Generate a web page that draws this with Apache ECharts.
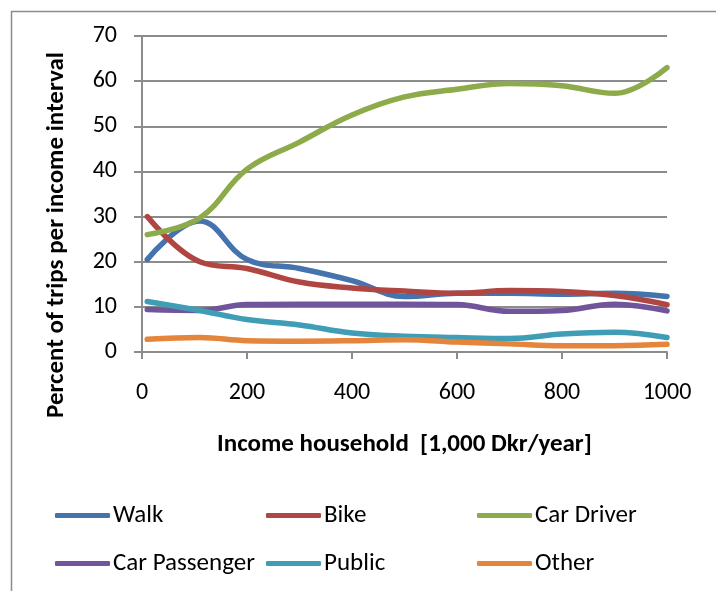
<!DOCTYPE html>
<html>
<head>
<meta charset="utf-8">
<script src="https://cdn.jsdelivr.net/npm/echarts@6/dist/echarts.min.js"></script>
<style>
html,body{margin:0;padding:0;background:#fff;}
#chart{width:716px;height:591px;}
</style>
</head>
<body>
<div id="chart"></div>
<script>
const income = [10, 110, 200, 300, 400, 500, 600, 700, 800, 900, 1000];
const walk = [20.5, 29.0, 20.5, 18.5, 15.8, 12.3, 13.0, 13.0, 12.8, 13.0, 12.3];
const bike = [30.0, 20.0, 18.5, 15.5, 14.2, 13.5, 13.0, 13.6, 13.4, 12.5, 10.5];
const carDriver = [26.0, 29.7, 40.5, 46.5, 52.5, 56.5, 58.2, 59.5, 59.0, 57.3, 63.0];
const carPassenger = [9.4, 9.2, 10.5, 10.6, 10.6, 10.6, 10.5, 9.0, 9.2, 10.6, 9.1];
const publicT = [11.2, 9.2, 7.2, 6.0, 4.2, 3.5, 3.2, 3.0, 4.0, 4.4, 3.2];
const other = [2.8, 3.2, 2.5, 2.4, 2.5, 2.7, 2.2, 1.8, 1.4, 1.4, 1.7];

const seriesNames = ['Walk', 'Bike', 'Car Driver', 'Car Passenger', 'Public', 'Other'];
const seriesValues = [walk, bike, carDriver, carPassenger, publicT, other];
const colors = ['#4473ae', '#b04642', '#8dab4b', '#71559a', '#3f9db5', '#e5843b'];

const yTicks = [0, 10, 20, 30, 40, 50, 60, 70];
const xTicks = [0, 200, 400, 600, 800, 1000];

const FONT = 'Carlito, Lato, sans-serif';

const chart = echarts.init(document.getElementById('chart'));

const series = seriesNames.map((name, i) => ({
  name: name,
  type: 'line',
  smooth: 0.4,
  showSymbol: false,
  symbol: 'none',
  data: income.map((x, j) => [x, seriesValues[i][j]]),
  lineStyle: { width: 5.5, color: colors[i], cap: 'round', join: 'round' },
  itemStyle: { color: colors[i] },
  z: 3
}));

function legend(names, left) {
  return {
    data: names.map(n => ({ name: n, icon: 'roundRect' })),
    orient: 'vertical',
    left: left,
    top: 503,
    itemWidth: 55,
    itemHeight: 5,
    itemGap: 23,
    padding: 0,
    selectedMode: false,
    textStyle: { fontFamily: FONT, fontSize: 25, color: '#000', lineHeight: 24, padding: [0, 0, 0, -2] }
  };
}

chart.setOption({
  animation: false,
  backgroundColor: '#fff',
  color: colors,
  grid: { left: 142, top: 36, width: 525, height: 316, containLabel: false },
  xAxis: {
    type: 'value',
    min: 0, max: 1000, interval: 200,
    name: 'Income household  [1,000 Dkr/year]',
    nameLocation: 'middle',
    nameGap: 80,
    nameTextStyle: { fontFamily: FONT, fontSize: 25, fontWeight: 'bold', color: '#000' },
    axisLine: { show: true, lineStyle: { color: '#8c8c8c', width: 2 } },
    axisTick: { show: true, inside: false, length: 7, lineStyle: { color: '#8c8c8c', width: 2 } },
    axisLabel: { margin: 29, fontFamily: FONT, fontSize: 24, color: '#000',
      formatter: v => xTicks.includes(v) ? String(v) : '' },
    splitLine: { show: false }
  },
  yAxis: {
    type: 'value',
    min: 0, max: 70, interval: 10,
    axisLine: { show: true, lineStyle: { color: '#8c8c8c', width: 2 } },
    axisTick: { show: true, inside: false, length: 8, lineStyle: { color: '#8c8c8c', width: 2 } },
    axisLabel: { margin: 25, fontFamily: FONT, fontSize: 24, color: '#000',
      formatter: v => yTicks.includes(v) ? String(v) : '' },
    splitLine: { show: true, lineStyle: { color: '#8c8c8c', width: 2 } }
  },
  legend: [
    legend(['Walk', 'Car Passenger'], 55),
    legend(['Bike', 'Public'], 266),
    legend(['Car Driver', 'Other'], 477)
  ],
  graphic: [
    {
      type: 'rect',
      left: 9, top: 9,
      shape: { x: 0, y: 0, width: 800, height: 700 },
      style: { fill: 'none', stroke: '#8c8c8c', lineWidth: 1.5 },
      silent: true, z: -1
    },
    {
      type: 'text',
      x: 57, y: 235,
      rotation: Math.PI / 2,
      style: {
        text: 'Percent of trips per income interval',
        font: 'bold 25px ' + FONT,
        fill: '#000',
        textAlign: 'center',
        textVerticalAlign: 'middle'
      }
    }
  ],
  series: series
});
</script>
</body>
</html>
